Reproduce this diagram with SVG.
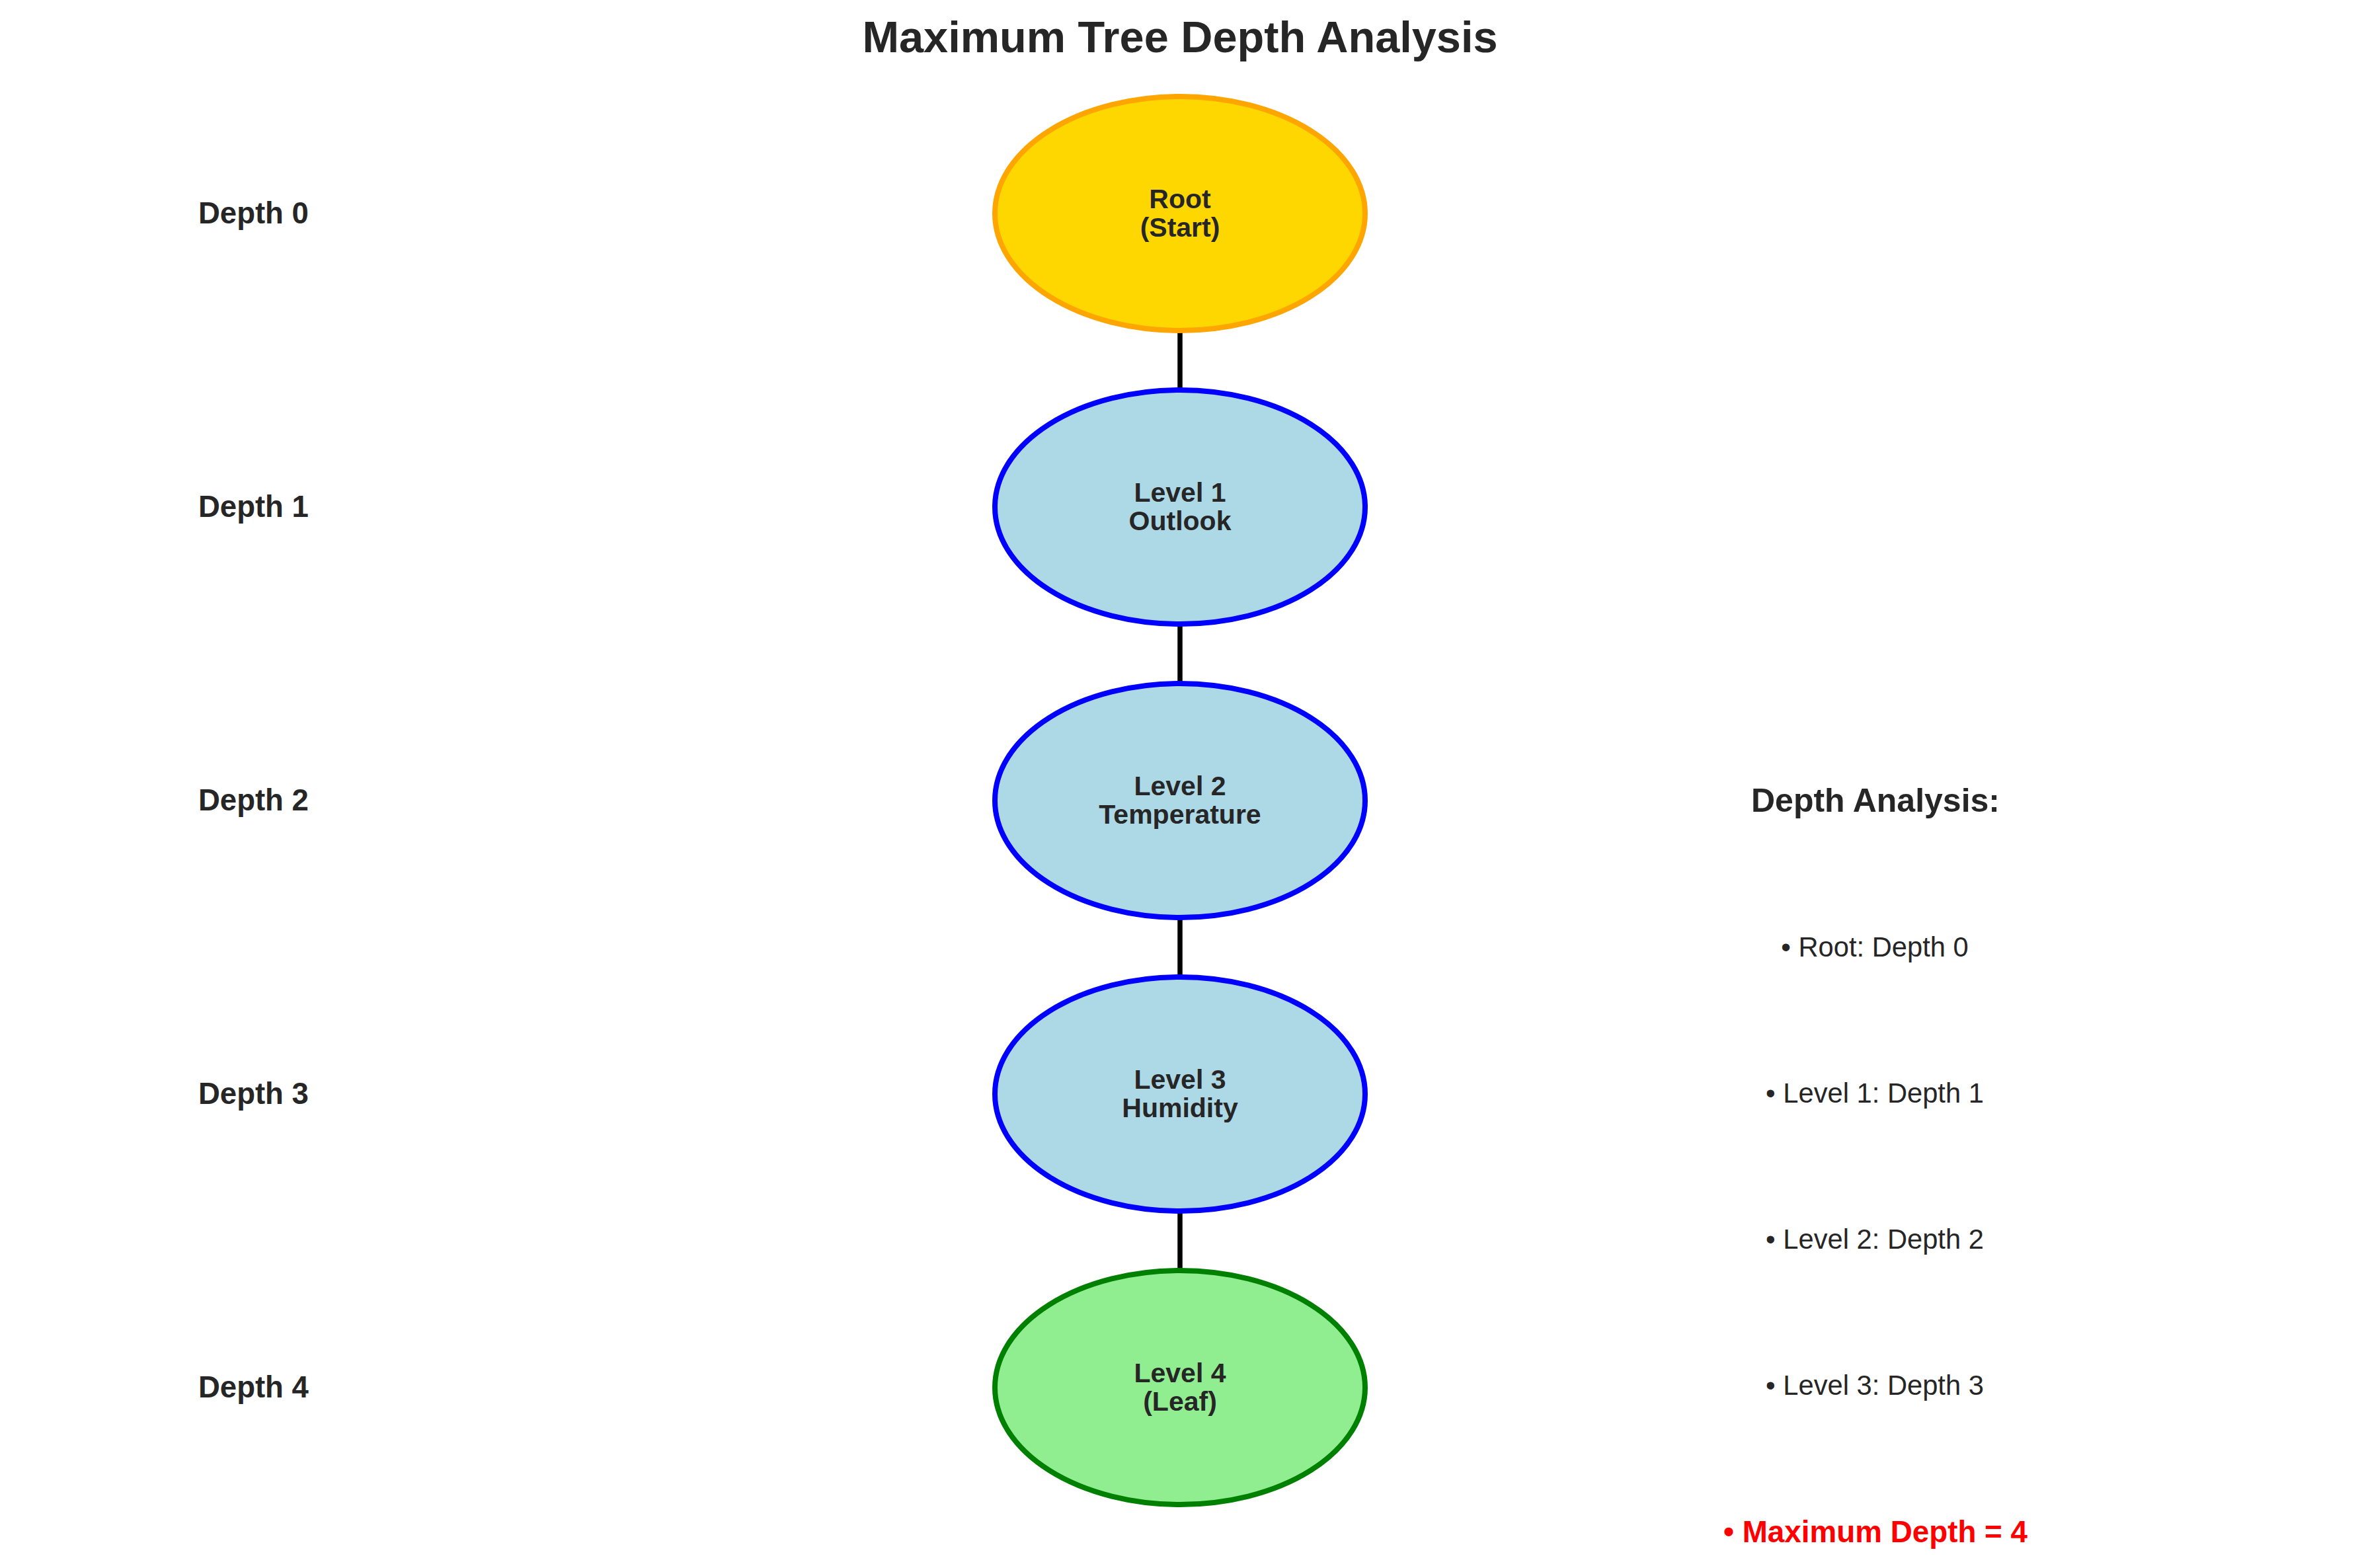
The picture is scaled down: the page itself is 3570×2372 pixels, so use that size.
<svg xmlns="http://www.w3.org/2000/svg" width="3570" height="2372" viewBox="0 0 3570 2372">
<style>
text{font-family:"Liberation Sans",Arial,sans-serif;fill:#262626}
.b{font-weight:bold}
.node{font-size:41px;font-weight:bold;text-anchor:middle}
.dep{font-size:45.5px;font-weight:bold}
.item{font-size:41.7px;text-anchor:middle}
.edge{stroke:#000;stroke-width:7.5;stroke-linecap:round}
.mid{fill:#ADD8E6;stroke:#0000FF;stroke-width:8}
</style>
<rect width="3570" height="2372" fill="#fff"/>
<text x="1785" y="79" class="b" font-size="66.7" text-anchor="middle">Maximum Tree Depth Analysis</text>
<g id="connectors">
<line class="edge" x1="1785" y1="501" x2="1785" y2="589"/>
<line class="edge" x1="1785" y1="945" x2="1785" y2="1033"/>
<line class="edge" x1="1785" y1="1389" x2="1785" y2="1477"/>
<line class="edge" x1="1785" y1="1833" x2="1785" y2="1921"/>
</g>
<g id="root">
<ellipse cx="1785" cy="323" rx="280" ry="177" fill="#FFD700" stroke="#FFA500" stroke-width="8"/>
<text class="node" x="1785" y="315">Root</text>
<text class="node" x="1785" y="358">(Start)</text>
</g>
<g id="level1">
<ellipse class="mid" cx="1785" cy="767" rx="280" ry="177"/>
<text class="node" x="1785" y="759">Level 1</text>
<text class="node" x="1785" y="802">Outlook</text>
</g>
<g id="level2">
<ellipse class="mid" cx="1785" cy="1211" rx="280" ry="177"/>
<text class="node" x="1785" y="1203">Level 2</text>
<text class="node" x="1785" y="1246">Temperature</text>
</g>
<g id="level3">
<ellipse class="mid" cx="1785" cy="1655" rx="280" ry="177"/>
<text class="node" x="1785" y="1647">Level 3</text>
<text class="node" x="1785" y="1690">Humidity</text>
</g>
<g id="level4">
<ellipse cx="1785" cy="2099" rx="280" ry="177" fill="#90EE90" stroke="#008000" stroke-width="8"/>
<text class="node" x="1785" y="2091">Level 4</text>
<text class="node" x="1785" y="2134">(Leaf)</text>
</g>
<g id="depth-labels">
<text class="dep" x="300" y="338">Depth 0</text>
<text class="dep" x="300" y="782">Depth 1</text>
<text class="dep" x="300" y="1226">Depth 2</text>
<text class="dep" x="300" y="1670">Depth 3</text>
<text class="dep" x="300" y="2114">Depth 4</text>
</g>
<g id="analysis">
<text class="b" font-size="50" x="2837" y="1228" text-anchor="middle">Depth Analysis:</text>
<text class="item" x="2836" y="1447">• Root: Depth 0</text>
<text class="item" x="2836" y="1668">• Level 1: Depth 1</text>
<text class="item" x="2836" y="1889">• Level 2: Depth 2</text>
<text class="item" x="2836" y="2110">• Level 3: Depth 3</text>
<text class="b" font-size="45.8" x="2837" y="2333" text-anchor="middle" style="fill:#FF0000">• Maximum Depth = 4</text>
</g>
</svg>
